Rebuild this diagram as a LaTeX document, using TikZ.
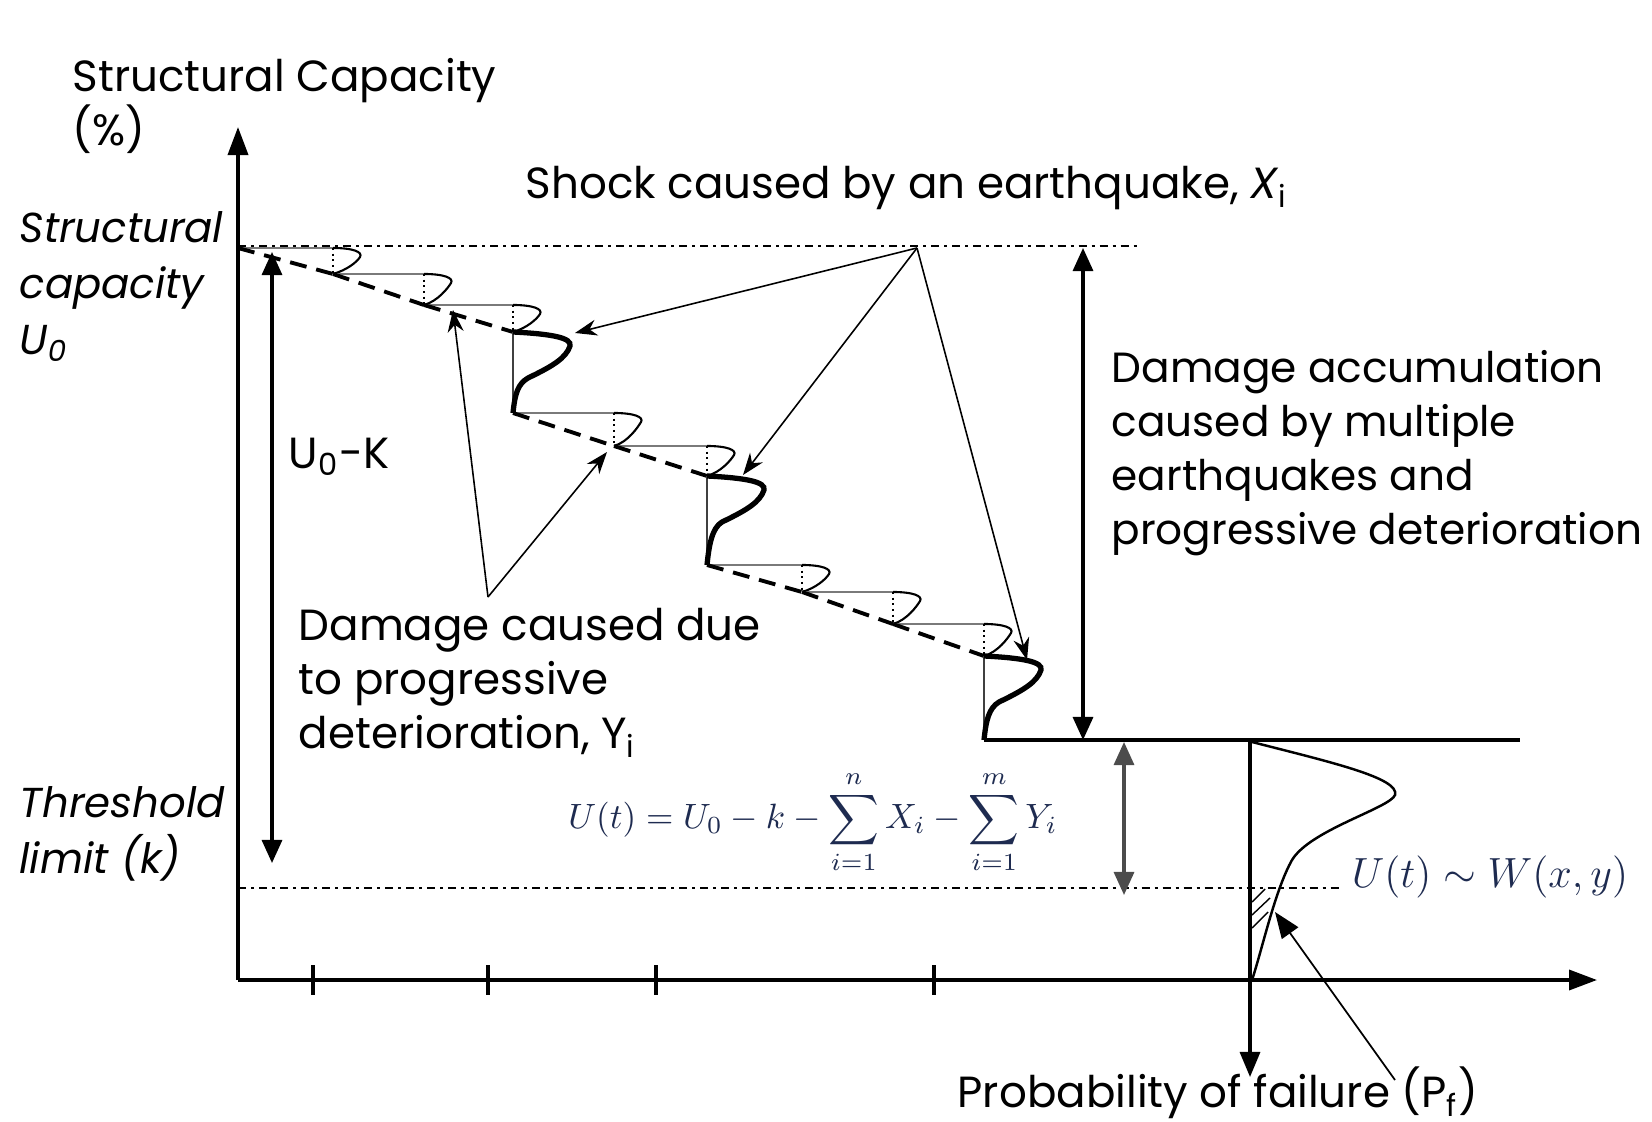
\documentclass[tikz,border=0pt]{standalone}
\usepackage[no-math]{fontspec}
\setmainfont{Poppins}
\usetikzlibrary{arrows.meta, positioning}
\definecolor{eqblue}{HTML}{1E2B50}
\definecolor{stepgray}{HTML}{7A7A7A}

\begin{document}
\begin{tikzpicture}[x=0.01cm, y=-0.01cm, font=\fontsize{12.4}{15.3}\selectfont,
    axis/.style={line width=1pt, -{Triangle[width=2mm,length=2.8mm]}},
    dimarrow/.style={line width=0.9pt, {Triangle[width=2mm,length=2.3mm]}-{Triangle[width=2mm,length=2.3mm]}},
    pointer/.style={line width=0.45pt, -{Stealth[length=2.2mm,width=1.6mm]}},
    level/.style={line width=0.8pt, dash pattern=on 0.08cm off 0.05cm on 0.03cm off 0.05cm},
    trend/.style={line width=1.1pt, dash pattern=on 0.17cm off 0.1cm},
    stepline/.style={stepgray, line width=0.8pt},
    lbl/.style={anchor=north west, align=left, inner sep=0pt},
    italic/.style={font=\fontsize{11.9}{15.9}\selectfont\itshape}]
    \useasboundingbox (0,0) rectangle (1652,1122);

    % axes
    \coordinate (O) at (238,980);
    \coordinate (ytip) at (238,127);
    \coordinate (xtip) at (1597,980);
    \draw[axis] (O) -- (ytip);
    \draw[axis] (O) -- (xtip);
    \foreach \x in {313,488,656,934}
        \draw[line width=0.9pt] (\x,965) -- (\x,995);

    % capacity and threshold levels
    \coordinate (u0a) at (238,246);  \coordinate (u0b) at (1140,246);
    \coordinate (ka) at (238,888);   \coordinate (kb) at (1343,888);
    \draw[level] (u0a) -- (u0b);
    \draw[level] (ka) -- (kb);

    % staircase points
    \coordinate (p0) at (238,248);
    \coordinate (p1) at (333,274);
    \coordinate (p2) at (424,305);
    \coordinate (p3) at (513,332);
    \coordinate (q1) at (513,413);
    \coordinate (p4) at (614,446);
    \coordinate (p5) at (707,476);
    \coordinate (q2) at (707,565);
    \coordinate (p6) at (802,592);
    \coordinate (p7) at (893,624);
    \coordinate (p8) at (984,656);
    \coordinate (q3) at (984,740);

    % deterioration steps
    \foreach \a/\b in {p0/p1, p1/p2, p2/p3, q1/p4, p4/p5, q2/p6, p6/p7, p7/p8} {
        \draw[stepline] (\a) -- (\a -| \b);
        \draw[trend] (\a) -- (\b);
        \draw[densely dotted, line width=0.6pt] (\a -| \b) -- (\b);
        \draw[line width=0.6pt] (\a -| \b) .. controls +(20,0) and +(3,-5) .. ++(27,9)
            .. controls +(-3,5) and +(14,-4) .. (\b);
    }

    % earthquake shocks
    \foreach \a/\b in {p3/q1, p5/q2, p8/q3} {
        \draw[black!75, line width=0.8pt] (\a) -- (\b);
        \draw[line width=1.5pt] (\a) .. controls +(40,2) and +(2,-8) .. ++(57,14)
            .. controls +(-4,12) and +(25,-12) .. ++(-42,32)
            .. controls +(-10,6) and +(2,-20) .. (\b);
    }

    % remaining capacity
    \coordinate (rend) at (1520,740);
    \draw[line width=1.1pt] (q3) -- (rend);

    % dimension arrows
    \coordinate (uka) at (272,252);   \coordinate (ukb) at (272,863);
    \coordinate (acca) at (1083,248); \coordinate (accb) at (1083,740);
    \coordinate (thra) at (1124,742); \coordinate (thrb) at (1124,895);
    \draw[dimarrow] (uka) -- (ukb);
    \draw[dimarrow] (acca) -- (accb);
    \draw[dimarrow, black!70] (thra) -- (thrb);

    % shock pointers
    \coordinate (shock) at (917,248);
    \coordinate (s1) at (575,333);
    \coordinate (s2) at (743,475);
    \coordinate (s3) at (1027,660);
    \foreach \t in {s1,s2,s3}
        \draw[pointer] (shock) -- (\t);

    % deterioration pointers
    \coordinate (det) at (488,597);
    \coordinate (d1) at (453,310);
    \coordinate (d2) at (607,452);
    \draw[pointer] (det) -- (d1);
    \draw[pointer] (det) -- (d2);

    % failure distribution
    \coordinate (fa) at (1250,740);
    \coordinate (fb) at (1250,1077);
    \draw[line width=0.9pt, -{Triangle[width=2mm,length=2.5mm]}] (fa) -- (fb);
    \draw[line width=0.7pt] (1252,742) .. controls (1330,762) and (1400,778) .. (1395,795)
        .. controls (1390,808) and (1310,830) .. (1292,860)
        .. controls (1275,890) and (1262,950) .. (1252,980);
    \draw[line width=0.4pt] (1252,902) -- (1265,889) (1252,915) -- (1270,898) (1252,928) -- (1268,912);
    \coordinate (pfa) at (1395,1080);
    \coordinate (pfb) at (1275,912);
    \draw[line width=0.5pt, -{Triangle[width=2mm,length=2.6mm]}] (pfa) -- (pfb);

    % labels
    \node[lbl] (ylbl) at (72,58) {Structural Capacity\\(\%)};
    \node[lbl, italic] (u0lbl) at (19,211) {Structural\\capacity\\U\textsubscript{0}};
    \node[lbl] (shocklbl) at (525,166) {Shock caused by an earthquake, \textit{X}\textsubscript{i}};
    \node[lbl] (uklbl) at (288,437) {U\textsubscript{0}-K};
    \node[lbl, font=\fontsize{12}{15.3}\selectfont] (acclbl) at (1111,350)
        {Damage accumulation\\caused by multiple\\earthquakes and\\progressive deterioration};
    \node[lbl] (detlbl) at (298,608) {Damage caused due\\to progressive\\deterioration, Y\textsubscript{i}};
    \node[lbl, italic] (klbl) at (19,786) {Threshold\\limit (k)};
    \node[lbl] (pflbl) at (957,1066) {Probability of failure (P\textsubscript{f})};
    \node[text=eqblue, font=\fontsize{10}{12}\selectfont] (eq) at (813,822)
        {$\displaystyle U(t)=U_0-k-\sum_{i=1}^{n}X_i-\sum_{i=1}^{m}Y_i$};
    \node[text=eqblue, font=\fontsize{12.8}{15}\selectfont] (wlbl) at (1490,877) {$U(t)\sim W(x,y)$};
\end{tikzpicture}
\end{document}
